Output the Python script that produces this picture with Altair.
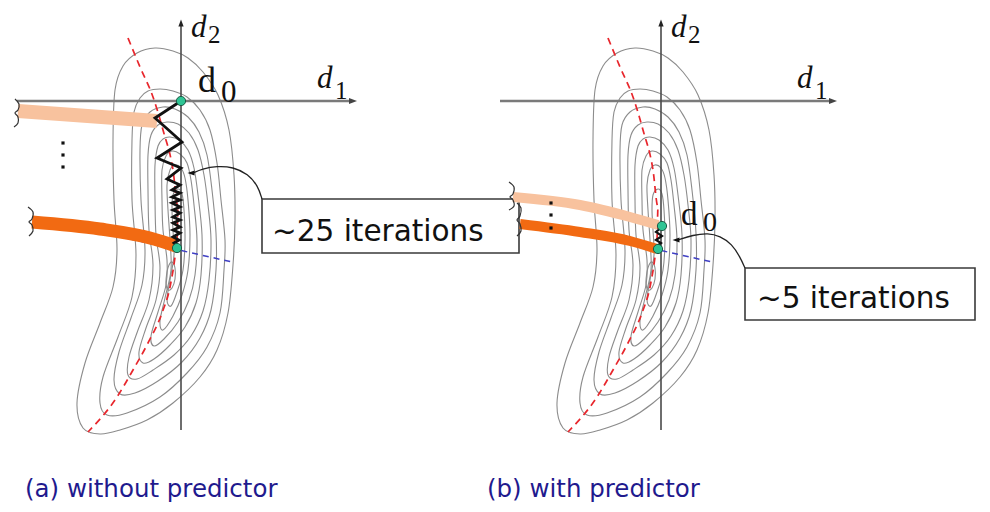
import altair as alt
import pandas as pd

# ---------------- data (pixel-like coordinates) ----------------
PANEL_OFFSETS = [0, 480]          # panel (a), panel (b): identical cost landscape, shifted right

# nested banana-shaped cost contours (panel a coordinates, clockwise from the top)
CONTOUR_1 = [(155, 48), (173, 51), (188, 58), (203, 72), (218, 95), (229, 130), (234, 175), (235, 220),
             (233, 265), (228, 313), (217, 350), (200, 377), (173, 403), (147, 420), (120, 430), (100, 434),
             (83, 428), (77, 403), (85, 363), (100, 323), (113, 287), (117, 250), (114, 200), (113, 140),
             (115, 90), (123, 66), (137, 53)]
CONTOUR_2 = [(160, 89), (173, 91), (187, 97), (200, 110), (210, 130), (217, 163), (221, 200), (225, 240),
             (224, 270), (220, 313), (207, 347), (187, 373), (160, 397), (127, 413), (107, 415), (100, 403),
             (103, 377), (118, 337), (132, 297), (136, 255), (132, 200), (132, 140), (134, 112), (140, 98),
             (148, 91)]
CONTOUR_3 = [(163, 107), (175, 109), (188, 117), (199, 132), (207, 155), (212, 190), (216, 233), (216, 270),
             (211, 310), (200, 338), (182, 362), (158, 381), (135, 393), (120, 394), (114, 380), (119, 352),
             (131, 318), (142, 285), (145, 250), (141, 200), (140, 150), (142, 125), (150, 112)]
CONTOUR_4 = [(167, 122), (178, 124), (189, 133), (198, 150), (204, 175), (208, 205), (211, 240), (209, 280),
             (203, 311), (191, 336), (174, 355), (153, 370), (137, 379), (128, 375), (129, 357), (138, 330),
             (149, 300), (153, 265), (149, 230), (148, 190), (148, 155), (151, 135), (158, 125)]
CONTOUR_5 = [(170, 137), (179, 140), (188, 150), (194, 168), (198, 195), (202, 235), (201, 275), (196, 303),
             (185, 327), (170, 345), (154, 359), (143, 363), (139, 352), (146, 328), (156, 300), (160, 268),
             (156, 235), (155, 200), (155, 165), (158, 146), (163, 139)]
CONTOUR_6 = [(172, 151), (180, 154), (187, 163), (191, 180), (194, 205), (197, 240), (195, 275), (189, 300),
             (178, 322), (164, 339), (154, 346), (151, 336), (158, 312), (166, 285), (167, 260), (163, 230),
             (162, 200), (162, 170), (166, 156)]
CONTOUR_7 = [(175, 165), (181, 168), (185, 178), (188, 200), (190, 235), (188, 270), (182, 295), (173, 316),
             (163, 330), (160, 321), (165, 298), (171, 270), (170, 240), (168, 210), (167, 185), (170, 170)]
CONTOUR_8 = [(178, 189), (182, 194), (184, 210), (185, 240), (183, 270), (177, 292), (171, 306), (167, 300),
             (170, 280), (174, 255), (173, 230), (172, 210), (173, 195)]
CONTOUR_9 = [(172, 262), (175, 268), (175, 279), (172, 288), (168, 290), (166, 283), (167, 272), (169, 265)]
CONTOURS = [CONTOUR_1, CONTOUR_2, CONTOUR_3, CONTOUR_4, CONTOUR_5, CONTOUR_6, CONTOUR_7, CONTOUR_8, CONTOUR_9]

VALLEY = [(128, 38), (140, 67), (153, 97), (163, 130), (173, 170), (178, 207), (177, 240), (175, 257),
          (170, 287), (162, 313), (148, 343), (133, 370), (117, 397), (88, 432)]       # red dashed
STEEPEST = [(117, 236), (232, 262)]                                                    # blue dashed

H_AXIS = [[(17, 101), (352, 101)], [(500 - 480, 101), (352, 101)]]   # per panel (panel-a coords)
V_AXIS = [(181, 430), (181, 26)]
H_ARROW = [(353, 101)]
V_ARROW = [(181, 23)]

# panel-specific pieces (absolute coordinates)
BAND_LIGHT_A = [(18, 111), (60, 114), (157, 121)]
BAND_DARK_A = [(32, 222), (100, 229), (150, 238), (176, 246)]
BAND_LIGHT_B = [(513, 197), (580, 205), (630, 217), (658, 225)]
BAND_DARK_B = [(520, 224), (580, 232), (630, 241), (657, 249)]

BRACES = [[(15, 99), (19, 104), (18, 110), (15, 113), (18, 117), (18, 123), (14, 127)],
          [(28, 207), (33, 212), (32, 219), (29, 222), (32, 225), (33, 231), (29, 236)],
          [(509, 182), (514, 187), (513, 194), (510, 197), (513, 200), (514, 206), (509, 210)],
          [(517, 203), (521, 208), (520, 216), (517, 220), (520, 224), (521, 231), (517, 236)]]
ELLIPSIS_DOTS = [(63, 143), (63, 155), (63, 167), (551, 203), (551, 215), (551, 228)]

ZIGZAG_A = [(181, 101), (155, 118), (182, 142), (157, 158), (181, 168), (167, 179), (180, 185), (172, 190),
            (180, 193), (172, 197), (180, 200), (172, 203), (180, 207), (173, 210), (180, 213), (173, 217),
            (180, 220), (173, 223), (180, 227), (173, 230), (180, 233), (173, 237), (179, 240), (174, 243),
            (178, 247), (177, 249)]
ZIGZAG_B = [(662, 227), (656, 232), (662, 236), (656, 240), (661, 243), (657, 246), (659, 249)]
ITERATES = [(181, 101), (177, 248), (662, 226), (658, 249)]        # green d0 / solution points

BOXES = [(262, 199, 519, 253), (745, 268, 975, 320)]
BOX_TEXT = [("~25 iterations", 272, 241), ("~5 iterations", 757, 308)]
CALLOUTS = [[(262, 199), (258, 186), (248, 174), (233, 167), (217, 166), (202, 169), (193, 173)],
            [(745, 268), (740, 257), (732, 244), (720, 236), (708, 233), (693, 235), (678, 240)]]
CALLOUT_TIPS = [(191, 173), (676, 240)]

AXIS_LETTERS = [("d", 191, 37), ("d", 317, 88)]     # per panel, panel-a coords
AXIS_SUBS = [("2", 208, 43), ("1", 335, 99)]
D0_A = [("d", 198, 92, "0", 221, 102)]
D0_B = [("d", 681, 225, "0", 703, 231)]
CAPTIONS = [("(a) without predictor", 25, 497), ("(b) with predictor", 487, 497)]

# ---------------- helpers ----------------
X = alt.X("x:Q", scale=alt.Scale(domain=[8, 982], nice=False, zero=False), axis=None)
Y = alt.Y("y:Q", scale=alt.Scale(domain=[8, 504], nice=False, zero=False, reverse=True), axis=None)


def paths(groups, offsets=(0,)):
    rows = []
    gid = 0
    for off in offsets:
        for g in groups:
            for i, (x, y) in enumerate(g):
                rows.append({"id": gid, "i": i, "x": x + off, "y": y})
            gid += 1
    return pd.DataFrame(rows)


def pts(points, offsets=(0,)):
    return pd.DataFrame([{"x": x + off, "y": y} for off in offsets for (x, y) in points])


def line(df, color, width, dash=None, interp="linear", cap="butt", opacity=1):
    kw = dict(color=color, strokeWidth=width, interpolate=interp, strokeCap=cap, opacity=opacity)
    if dash:
        kw["strokeDash"] = dash
    return alt.Chart(df).mark_line(**kw).encode(x=X, y=Y, detail="id:N", order="i:Q")


def texts(rows, **kw):
    df = pd.DataFrame(rows, columns=["text", "x", "y"])
    return alt.Chart(df).mark_text(align="left", baseline="alphabetic", **kw).encode(x=X, y=Y, text="text:N")


# ---------------- layers ----------------
contours = line(paths(CONTOURS, PANEL_OFFSETS), "#8c8c8c", 1.1, interp="cardinal-closed")
valley = line(paths([VALLEY], PANEL_OFFSETS), "#e8262c", 1.7, dash=[7, 5], interp="monotone")
steep = line(paths([STEEPEST], PANEL_OFFSETS), "#3f3fc4", 1.5, dash=[6, 5])

h_axes = line(pd.concat([paths([H_AXIS[0]], [0]), paths([H_AXIS[1]], [480]).assign(id=1)]), "#7a7a7a", 2.4)
v_axes = line(paths([V_AXIS], PANEL_OFFSETS), "#4a4a4a", 1.6)
h_arrows = alt.Chart(pts(H_ARROW, PANEL_OFFSETS)).mark_point(
    shape="M-1,-0.75L1,0L-1,0.75Z", size=64, filled=True, color="#444", opacity=1).encode(x=X, y=Y)
v_arrows = alt.Chart(pts(V_ARROW, PANEL_OFFSETS)).mark_point(
    shape="M-0.75,1L0,-1L0.75,1Z", size=49, filled=True, color="#222", opacity=1).encode(x=X, y=Y)

boxes = alt.Chart(pd.DataFrame(BOXES, columns=["x", "y", "x2", "y2"])).mark_rect(
    fill="white", stroke="#3a3a3a", strokeWidth=1.6).encode(x=X, y=Y, x2="x2:Q", y2="y2:Q")

band_light_a = line(paths([BAND_LIGHT_A]), "#f8c29e", 14, interp="monotone")
band_dark_a = line(paths([BAND_DARK_A]), "#f26a12", 13, interp="monotone")
band_light_b = line(paths([BAND_LIGHT_B]), "#f8c29e", 10, interp="monotone")
band_dark_b = line(paths([BAND_DARK_B]), "#f26a12", 10, interp="monotone")

braces = line(paths(BRACES), "#333333", 1.2, interp="cardinal")
dots = alt.Chart(pts(ELLIPSIS_DOTS)).mark_square(size=10, color="#111", opacity=1).encode(x=X, y=Y)

zig_a = line(paths([ZIGZAG_A]), "#111111", 2.8)
zig_b = line(paths([ZIGZAG_B]), "#111111", 2.2)
iterates = alt.Chart(pts(ITERATES)).mark_point(
    shape="circle", size=85, filled=True, fill="#2fc494", stroke="#1b5a44", strokeWidth=1, opacity=1
).encode(x=X, y=Y)

callouts = line(paths(CALLOUTS), "#222222", 1.3, interp="basis")
tips = alt.Chart(pts(CALLOUT_TIPS)).mark_point(
    shape="M1,-0.7L-1,0L1,0.7Z", size=49, filled=True, color="#111", opacity=1).encode(x=X, y=Y)

box_text = texts(BOX_TEXT, font="DejaVu Sans", fontSize=29.5, color="#111")

axis_rows = [(t, x + off, y) for off in PANEL_OFFSETS for (t, x, y) in AXIS_LETTERS]
sub_rows = [(t, x + off, y) for off in PANEL_OFFSETS for (t, x, y) in AXIS_SUBS]
axis_letters = texts(axis_rows, font="Liberation Serif", fontStyle="italic", fontSize=31, color="#111")
axis_subs = texts(sub_rows, font="Liberation Serif", fontSize=25, color="#111")

d0a_d = texts([(r[0], r[1], r[2]) for r in D0_A], font="Liberation Serif", fontSize=36, color="#111")
d0a_0 = texts([(r[3], r[4], r[5]) for r in D0_A], font="Liberation Serif", fontSize=31, color="#111")
d0b_d = texts([(r[0], r[1], r[2]) for r in D0_B], font="Liberation Serif", fontSize=33, color="#111")
d0b_0 = texts([(r[3], r[4], r[5]) for r in D0_B], font="Liberation Serif", fontSize=28, color="#111")

captions = texts(CAPTIONS, font="DejaVu Sans", fontSize=24.5, color="#1f1a8e")

chart = alt.layer(
    contours, valley, h_axes, v_axes, h_arrows, v_arrows, steep,
    boxes, band_light_a, band_dark_a, band_light_b, band_dark_b,
    braces, dots, zig_a, zig_b, iterates, callouts, tips,
    box_text, axis_letters, axis_subs, d0a_d, d0a_0, d0b_d, d0b_0, captions
).properties(
    width=974, height=496, padding=0, autosize=alt.AutoSizeParams(type="none"), background="white"
).configure_view(strokeWidth=0)

chart.save("out.html", embed_options={"renderer": "svg", "actions": False})
